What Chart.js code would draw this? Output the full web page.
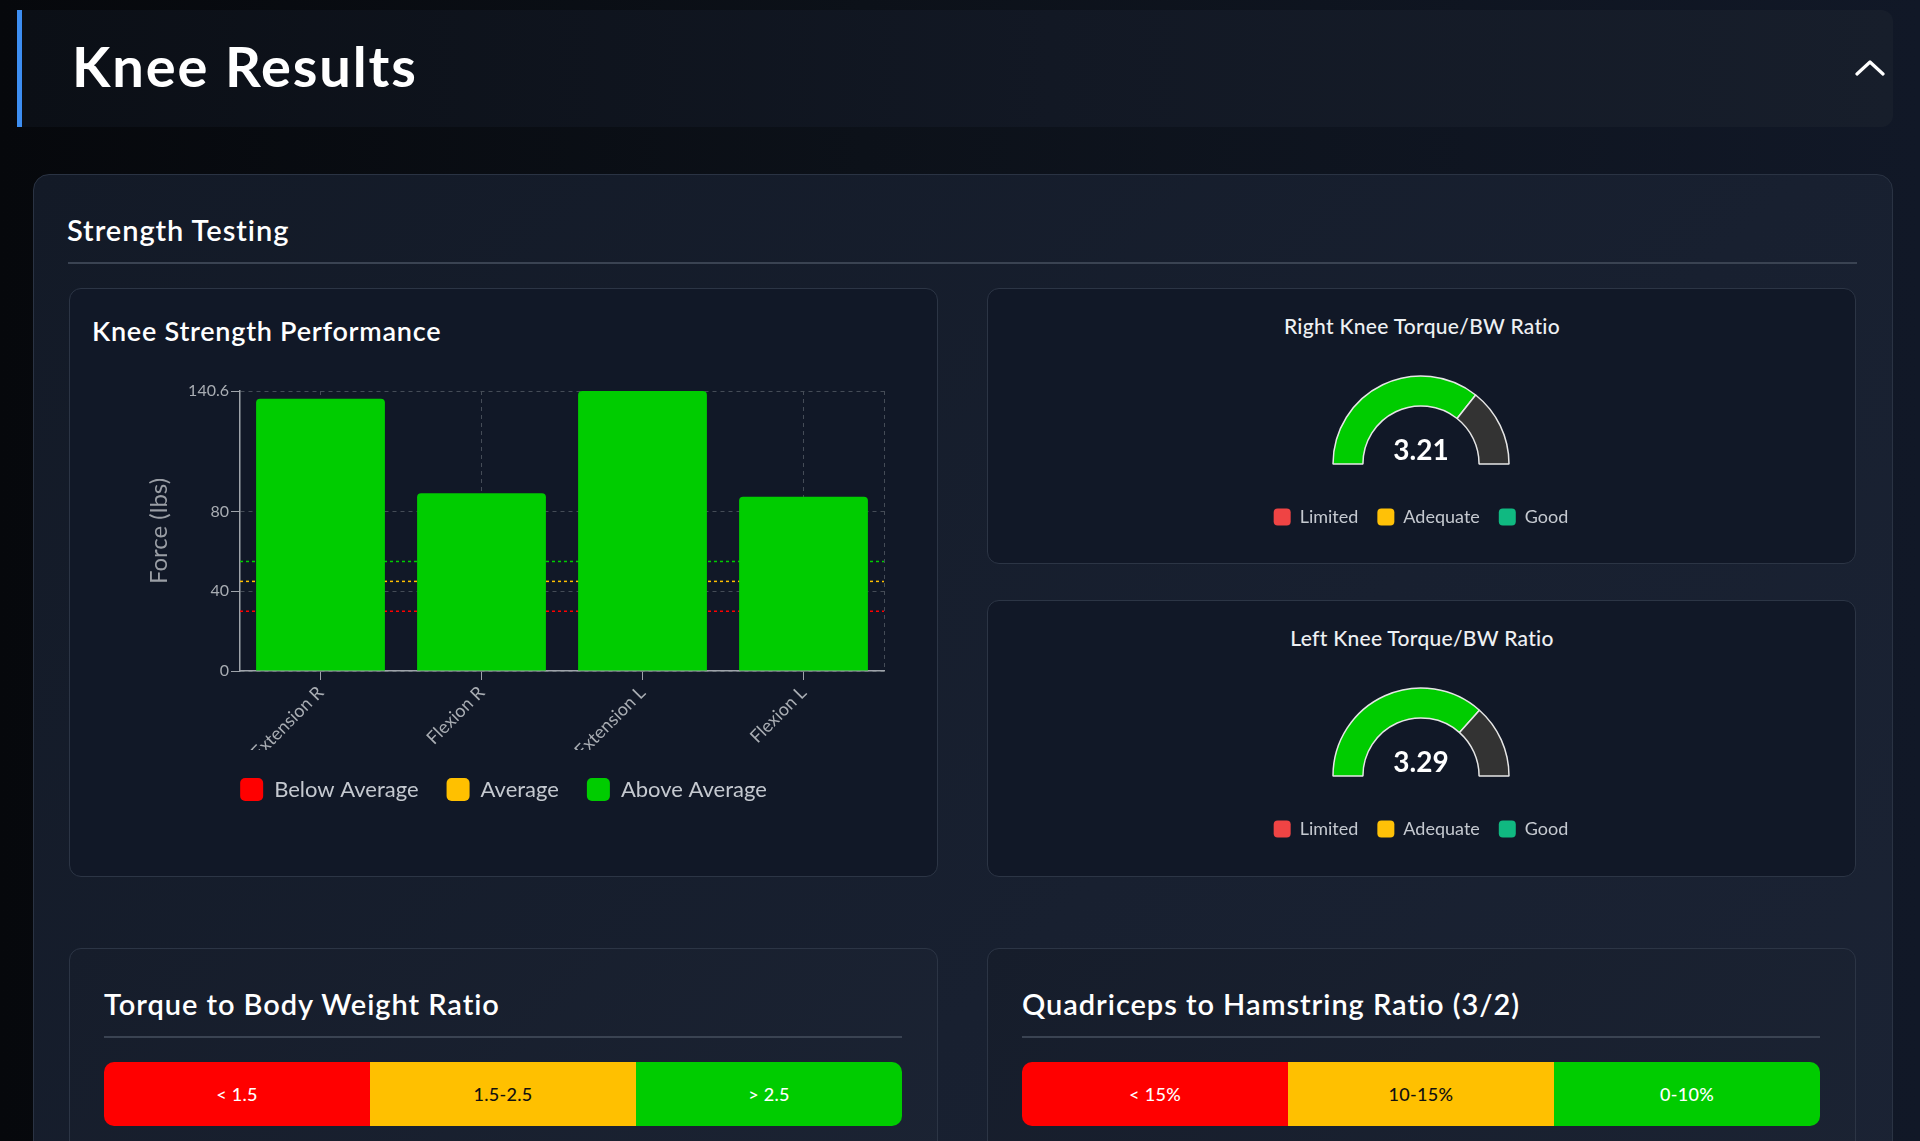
<!DOCTYPE html>
<html>
<head>
<meta charset="utf-8">
<title>Knee Results</title>
<script src="https://cdn.jsdelivr.net/npm/chart.js@4.4.1/dist/chart.umd.min.js"></script>
<style>
  html, body { margin: 0; padding: 0; }
  body {
    width: 1920px; height: 1141px; overflow: hidden; position: relative;
    background: linear-gradient(90deg, #06080c 0%, #0c1119 45%, #111827 100%);
    font-family: Lato, "Noto Sans", sans-serif; color: #fff;
  }
  .abs { position: absolute; box-sizing: border-box; }
  .header {
    left: 17px; top: 10px; width: 1876px; height: 117px;
    border-left: 5px solid #3d8ef2; border-radius: 0 12px 12px 0;
    background: linear-gradient(90deg, #0b0f16 0%, #121824 55%, #171e2b 100%);
  }
  .header h1 { position: absolute; left: 50px; top: 28px; margin: 0; font-size: 56px; line-height: 56px; font-weight: 700; letter-spacing: 1.9px; }
  .chev { position: absolute; right: 8px; top: 48px; }
  .panel {
    left: 33px; top: 174px; width: 1860px; height: 1100px;
    border: 1px solid #2a3343; border-radius: 16px;
    background: linear-gradient(135deg, #131a27 0%, #182030 60%, #1b2334 100%);
  }
  .h2 { font-size: 29px; line-height: 29px; font-weight: 600; margin: 0; white-space: nowrap; letter-spacing: 0.95px; }
  .rule { height: 2px; background: #3a4352; }
  .card { background: #111827; border: 1px solid #2c3545; border-radius: 12px; }
  .card.low { background: linear-gradient(135deg, #161d2b 0%, #1b2333 100%); }
  .h3 { font-size: 27px; line-height: 27px; font-weight: 600; white-space: nowrap; letter-spacing: 0.75px; }
  .gtitle { font-size: 21px; line-height: 21px; font-weight: 500; text-align: center; color: #eef0f3; letter-spacing: 0.3px; }
  .gval { font-size: 28px; line-height: 28px; font-weight: 700; text-align: center; }
  .range { display: flex; height: 64px; border-radius: 10px; overflow: hidden; }
  .range div { flex: 1; display: flex; align-items: center; justify-content: center; font-size: 18px; font-weight: 500; letter-spacing: 0.3px; }
</style>
</head>
<body>
<div class="abs header">
  <h1>Knee Results</h1>
  <svg class="chev" width="30" height="20" viewBox="0 0 30 20"><polyline points="2,16 15,4 28,16" fill="none" stroke="#fff" stroke-width="3.2" stroke-linecap="round" stroke-linejoin="round"/></svg>
</div>

<div class="abs panel"></div>
<div class="abs h2" style="left:67px; top:215px;">Strength Testing</div>
<div class="abs rule" style="left:68px; top:262px; width:1789px;"></div>

<div class="abs card" style="left:69px; top:288px; width:869px; height:589px;"></div>
<div class="abs h3" style="left:92px; top:317px;">Knee Strength Performance</div>
<div class="abs" style="left:79px; top:360px; width:849px; height:455px;"><canvas id="strengthChart"></canvas></div>

<div class="abs card" style="left:987px; top:288px; width:869px; height:276px;"></div>
<div class="abs card" style="left:987px; top:600px; width:869px; height:277px;"></div>
<div id="gauges"></div>

<div class="abs card low" style="left:69px; top:948px; width:869px; height:260px;"></div>
<div class="abs card low" style="left:987px; top:948px; width:869px; height:260px;"></div>
<div class="abs h2" style="left:104px; top:989px;">Torque to Body Weight Ratio</div>
<div class="abs h2" style="left:1022px; top:989px;">Quadriceps to Hamstring Ratio (3/2)</div>
<div class="abs rule" style="left:104px; top:1036px; width:798px;"></div>
<div class="abs rule" style="left:1022px; top:1036px; width:798px;"></div>
<div class="abs range" id="torqueRange" style="left:104px; top:1062px; width:798px;"></div>
<div class="abs range" id="qhRange" style="left:1022px; top:1062px; width:798px;"></div>

<script>
// 筋力データ
const categories = ['Extension R', 'Flexion R', 'Extension L', 'Flexion L'];
const forceValues = [136.7, 89.3, 140.6, 87.5];
const yTickValues = [0, 40, 80, 140.6];
const bandNames = ['Below Average', 'Average', 'Above Average'];
const bandLevels = [30, 45, 55];
const bandColors = ['#ff0000', '#ffc000', '#00cc00'];

// ゲージ
const gaugeTitles = ['Right Knee Torque/BW Ratio', 'Left Knee Torque/BW Ratio'];
const gaugeValues = [3.21, 3.29];
const gaugeMax = 4.5;
const ratingNames = ['Limited', 'Adequate', 'Good'];
const ratingColors = ['#ef4444', '#ffc107', '#10b981'];

// 範囲バー
const torqueRanges = ['< 1.5', '1.5-2.5', '> 2.5'];
const qhRanges = ['< 15%', '10-15%', '0-10%'];
const rangeColors = ['#ff0000', '#ffc000', '#00cc00'];
const rangeTextColors = ['#ffffff', '#111111', '#ffffff'];

Chart.defaults.font.family = 'Lato, "Noto Sans", sans-serif';
Chart.defaults.animation = false;

const gridColor = '#454c57';
const axisColor = '#9ea3aa';
const labelColor = '#a9adb3';

// 基準線（線データセット、棒の後ろに描画）
const bandSets = bandNames.map((name, i) => ({
    type: 'line',
    label: name,
    xAxisID: 'x2',
    data: [{ x: 0, y: bandLevels[i] }, { x: 1, y: bandLevels[i] }],
    borderColor: bandColors[i],
    backgroundColor: bandColors[i],
    borderWidth: 1.5,
    borderDash: [3, 3],
    pointRadius: 0,
    order: 1
}));

new Chart(document.getElementById('strengthChart'), {
    type: 'bar',
    data: {
        labels: categories,
        datasets: [{
            label: 'Force',
            data: forceValues,
            backgroundColor: '#00cc00',
            borderRadius: 4,
            grouped: false,
            barPercentage: 1,
            categoryPercentage: 0.8,
            order: 0
        }, ...bandSets]
    },
    options: {
        responsive: true,
        maintainAspectRatio: false,
        layout: { padding: { left: 44, right: 44, top: 31, bottom: 4 } },
        plugins: {
            tooltip: { enabled: false },
            legend: {
                position: 'bottom',
                labels: {
                    generateLabels: () => bandNames.map((name, i) => ({
                        text: name, fillStyle: bandColors[i], strokeStyle: bandColors[i],
                        lineWidth: 0, fontColor: '#c5c9d0', hidden: false, datasetIndex: i + 1,
                        borderRadius: 5
                    })),
                    boxWidth: 23, boxHeight: 23, useBorderRadius: true, borderRadius: 5,
                    padding: 28, color: '#c5c9d0', font: { size: 22 }
                }
            }
        },
        scales: {
            x: {
                afterFit: s => { s.height = 79; },
                grid: { offset: false, color: gridColor, tickColor: axisColor, tickLength: 9, tickBorderDash: [] },
                border: { color: axisColor, width: 1.5, dash: [4, 4] },
                ticks: { color: labelColor, font: { size: 18 }, minRotation: 45, maxRotation: 45, padding: 2 }
            },
            x2: {
                type: 'linear', position: 'top', min: 0, max: 1, offset: false,
                afterBuildTicks: s => { s.ticks = [{ value: 1 }]; },
                ticks: { display: false },
                grid: { offset: false, color: gridColor, drawTicks: false },
                border: { display: false, dash: [4, 4] }
            },
            y: {
                min: 0,
                max: Math.max(...forceValues),
                afterBuildTicks: s => { s.ticks = yTickValues.map(v => ({ value: v })); },
                afterFit: s => { s.width = 117; },
                grid: { color: gridColor, tickColor: axisColor, tickLength: 9, tickBorderDash: [] },
                border: { color: axisColor, width: 1.5, dash: [4, 4] },
                ticks: { color: labelColor, font: { size: 16 }, padding: 2 },
                title: { display: true, text: 'Force (lbs)', color: '#9a9ea5', font: { size: 24 }, padding: { top: 22, bottom: 0 } }
            }
        }
    }
});

// ゲージ描画
const gaugeHost = document.getElementById('gauges');
gaugeValues.forEach((v, i) => {
    const dy = i * 312;
    gaugeHost.insertAdjacentHTML('beforeend',
        `<div class="abs gtitle" style="left:1022px; top:${315 + dy}px; width:800px;">${gaugeTitles[i]}</div>` +
        `<div class="abs" style="left:1221px; top:${351 + dy}px; width:400px; height:185px;"><canvas id="gauge${i}"></canvas></div>` +
        `<div class="abs gval" style="left:1221px; top:${435 + dy}px; width:400px;">${v.toFixed(2)}</div>`);
    new Chart(document.getElementById('gauge' + i), {
        type: 'doughnut',
        data: {
            labels: ['Score', 'Remaining'],
            datasets: [{
                data: [v, gaugeMax - v],
                backgroundColor: ['#00cc00', '#333333'],
                borderColor: '#e6e6e6',
                borderWidth: 1.5
            }]
        },
        options: {
            responsive: true,
            maintainAspectRatio: false,
            rotation: -90,
            circumference: 180,
            cutout: '66%',
            radius: 88,
            plugins: {
                tooltip: { enabled: false },
                legend: {
                    position: 'bottom',
                    labels: {
                        generateLabels: () => ratingNames.map((name, k) => ({
                            text: name, fillStyle: ratingColors[k], strokeStyle: ratingColors[k],
                            lineWidth: 0, fontColor: '#c5c9d0', hidden: false, index: k,
                            borderRadius: 4
                        })),
                        boxWidth: 17, boxHeight: 17, useBorderRadius: true, borderRadius: 4,
                        padding: 19, color: '#c5c9d0', font: { size: 18 }
                    }
                }
            }
        }
    });
});

// 範囲バー
function buildRange(id, texts) {
    const el = document.getElementById(id);
    texts.forEach((t, i) => {
        const d = document.createElement('div');
        d.textContent = t;
        d.style.background = rangeColors[i];
        d.style.color = rangeTextColors[i];
        el.appendChild(d);
    });
}
buildRange('torqueRange', torqueRanges);
buildRange('qhRange', qhRanges);
</script>
</body>
</html>
